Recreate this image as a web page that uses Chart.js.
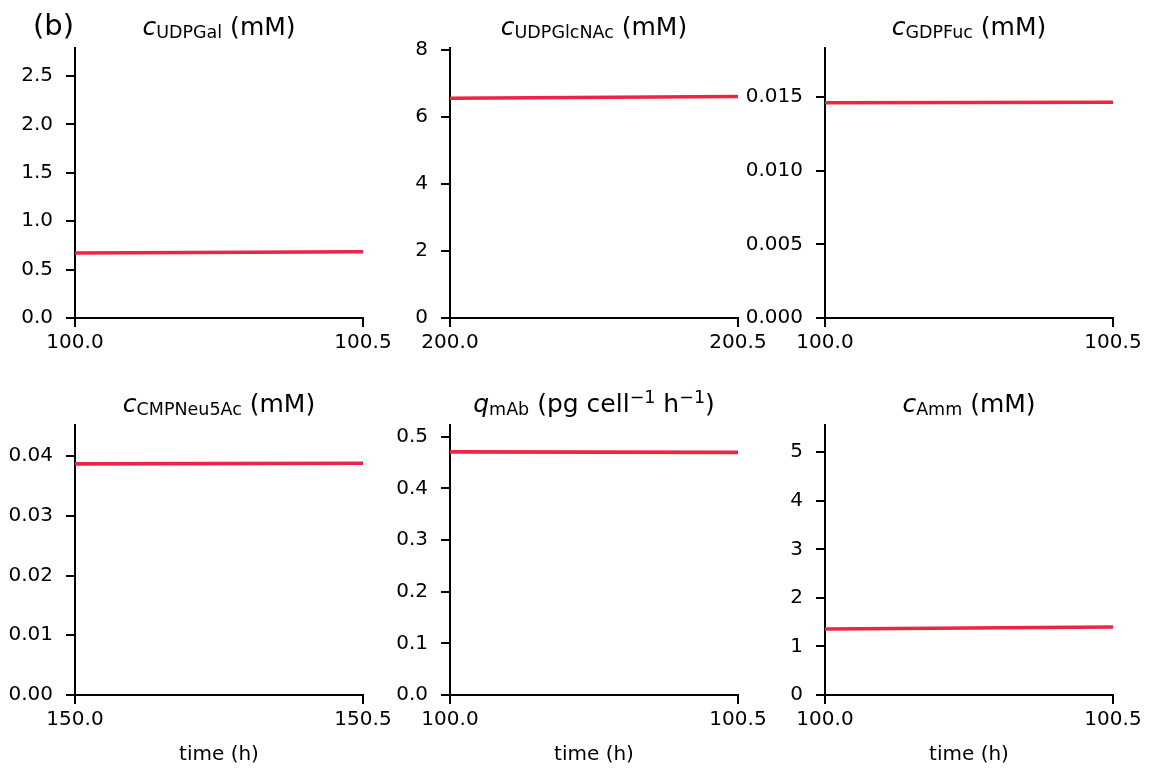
<!DOCTYPE html>
<html lang="en">
<head>
<meta charset="UTF-8">
<title>Panel (b) – nucleotide sugars, qmAb and ammonia</title>
<script src="https://cdn.jsdelivr.net/npm/chart.js"></script>
<style>
  body { margin: 0; background: #fff; overflow: hidden; width: 1149px; height: 769px; position: relative; }
  canvas { position: absolute; }
</style>
</head>
<body>
<canvas id="p1" width="410" height="377" style="left:-10px;top:0"></canvas>
<canvas id="p2" width="410" height="377" style="left:365px;top:0"></canvas>
<canvas id="p3" width="410" height="377" style="left:740px;top:0"></canvas>
<canvas id="p4" width="410" height="392" style="left:-10px;top:377px"></canvas>
<canvas id="p5" width="410" height="392" style="left:365px;top:377px"></canvas>
<canvas id="p6" width="410" height="392" style="left:740px;top:377px"></canvas>
<script>
// time windows (h), also used as the x tick labels
const time100 = [100.0, 100.5];
const time200 = [200.0, 200.5];
const time150 = [150.0, 150.5];

// series values at the start / end of each window
const udpGal = [0.671, 0.685];
const udpGlcNAc = [6.56, 6.61];
const gdpFuc = [0.01463, 0.01466];
const cmpNeu5Ac = [0.0387, 0.0388];
const qmAb = [0.471, 0.470];
const amm = [1.36, 1.40];

// y tick labels
const ticksUdpGal = [0.0, 0.5, 1.0, 1.5, 2.0, 2.5];
const ticksUdpGlcNAc = [0, 2, 4, 6, 8];
const ticksGdpFuc = [0.000, 0.005, 0.010, 0.015];
const ticksCmpNeu5Ac = [0.00, 0.01, 0.02, 0.03, 0.04];
const ticksQmAb = [0.0, 0.1, 0.2, 0.3, 0.4, 0.5];
const ticksAmm = [0, 1, 2, 3, 4, 5];

const FONT = '"DejaVu Sans", sans-serif';
const INK = '#000';
const RED = '#ec2545';

// draws the panel heading (italic symbol + sub/superscripts) above the plot
const titlePlugin = {
  id: 'panelTitle',
  afterDraw(chart, args, opts) {
    const ctx = chart.ctx;
    const area = chart.chartArea;
    const base = area.top - 13;
    const parts = opts.parts || [];
    const fontOf = p => (p.italic ? 'italic ' : '') + (p.sub || p.sup ? 17.5 : 25) + 'px ' + FONT;
    let total = 0;
    parts.forEach(p => { ctx.font = fontOf(p); total += ctx.measureText(p.t).width; });
    let x = (area.left + area.right) / 2 - total / 2;
    ctx.save();
    ctx.fillStyle = INK;
    ctx.textBaseline = 'alphabetic';
    ctx.textAlign = 'left';
    parts.forEach(p => {
      ctx.font = fontOf(p);
      const y = p.sub ? base + 3 : p.sup ? base - 9 : base;
      ctx.fillText(p.t, x, y);
      x += ctx.measureText(p.t).width;
    });
    if (opts.tag) {
      ctx.font = '29px ' + FONT;
      ctx.fillText(opts.tag, 43, 35);
    }
    ctx.restore();
  }
};

function makePanel(id, times, values, yTicks, yMax, digits, parts, xTitle, tag) {
  const canvas = document.getElementById(id);
  const xHeight = canvas.height - 48 - 270;
  new Chart(canvas, {
    type: 'line',
    data: {
      datasets: [{
        data: times.map((t, i) => ({ x: t, y: values[i] })),
        borderColor: RED,
        borderWidth: 3.6,
        pointRadius: 0,
        tension: 0,
        fill: false
      }]
    },
    options: {
      responsive: false,
      animation: false,
      events: [],
      layout: { padding: { left: 0, right: 37, top: 48, bottom: 0 } },
      plugins: {
        legend: { display: false },
        tooltip: { enabled: false },
        panelTitle: { parts: parts, tag: tag }
      },
      scales: {
        x: {
          type: 'linear',
          min: times[0],
          max: times[times.length - 1],
          afterBuildTicks: s => { s.ticks = times.map(v => ({ value: v })); },
          afterFit: s => { s.height = xHeight; },
          ticks: {
            color: INK, font: { family: FONT, size: 20 }, padding: 4,
            maxRotation: 0, autoSkip: false,
            callback: v => Number(v).toFixed(1)
          },
          grid: { drawOnChartArea: false, drawTicks: true, tickLength: 9, color: INK, lineWidth: 2 },
          border: { display: true, color: INK, width: 2 },
          title: {
            display: !!xTitle, text: xTitle || '', color: INK,
            font: { family: FONT, size: 20 }, padding: { top: 0, bottom: 2 }
          }
        },
        y: {
          min: 0,
          max: yMax,
          afterBuildTicks: s => { s.ticks = yTicks.map(v => ({ value: v })); },
          afterFit: s => { s.width = 85; },
          ticks: {
            color: INK, font: { family: FONT, size: 20 }, padding: 13,
            autoSkip: false,
            callback: v => Number(v).toFixed(digits)
          },
          grid: { drawOnChartArea: false, drawTicks: true, tickLength: 9, color: INK, lineWidth: 2 },
          border: { display: true, color: INK, width: 2 }
        }
      }
    },
    plugins: [titlePlugin]
  });
}

makePanel('p1', time100, udpGal, ticksUdpGal, 2.79, 1,
  [{ t: 'c', italic: true }, { t: 'UDPGal', sub: true }, { t: ' (mM)' }], null, '(b)');
makePanel('p2', time200, udpGlcNAc, ticksUdpGlcNAc, 8.06, 0,
  [{ t: 'c', italic: true }, { t: 'UDPGlcNAc', sub: true }, { t: ' (mM)' }], null);
makePanel('p3', time100, gdpFuc, ticksGdpFuc, 0.01835, 3,
  [{ t: 'c', italic: true }, { t: 'GDPFuc', sub: true }, { t: ' (mM)' }], null);
makePanel('p4', time150, cmpNeu5Ac, ticksCmpNeu5Ac, 0.0452, 2,
  [{ t: 'c', italic: true }, { t: 'CMPNeu5Ac', sub: true }, { t: ' (mM)' }], 'time (h)');
makePanel('p5', time100, qmAb, ticksQmAb, 0.523, 1,
  [{ t: 'q', italic: true }, { t: 'mAb', sub: true }, { t: ' (pg cell' }, { t: '\u22121', sup: true },
   { t: ' h' }, { t: '\u22121', sup: true }, { t: ')' }], 'time (h)');
makePanel('p6', time100, amm, ticksAmm, 5.56, 0,
  [{ t: 'c', italic: true }, { t: 'Amm', sub: true }, { t: ' (mM)' }], 'time (h)');
</script>
</body>
</html>
